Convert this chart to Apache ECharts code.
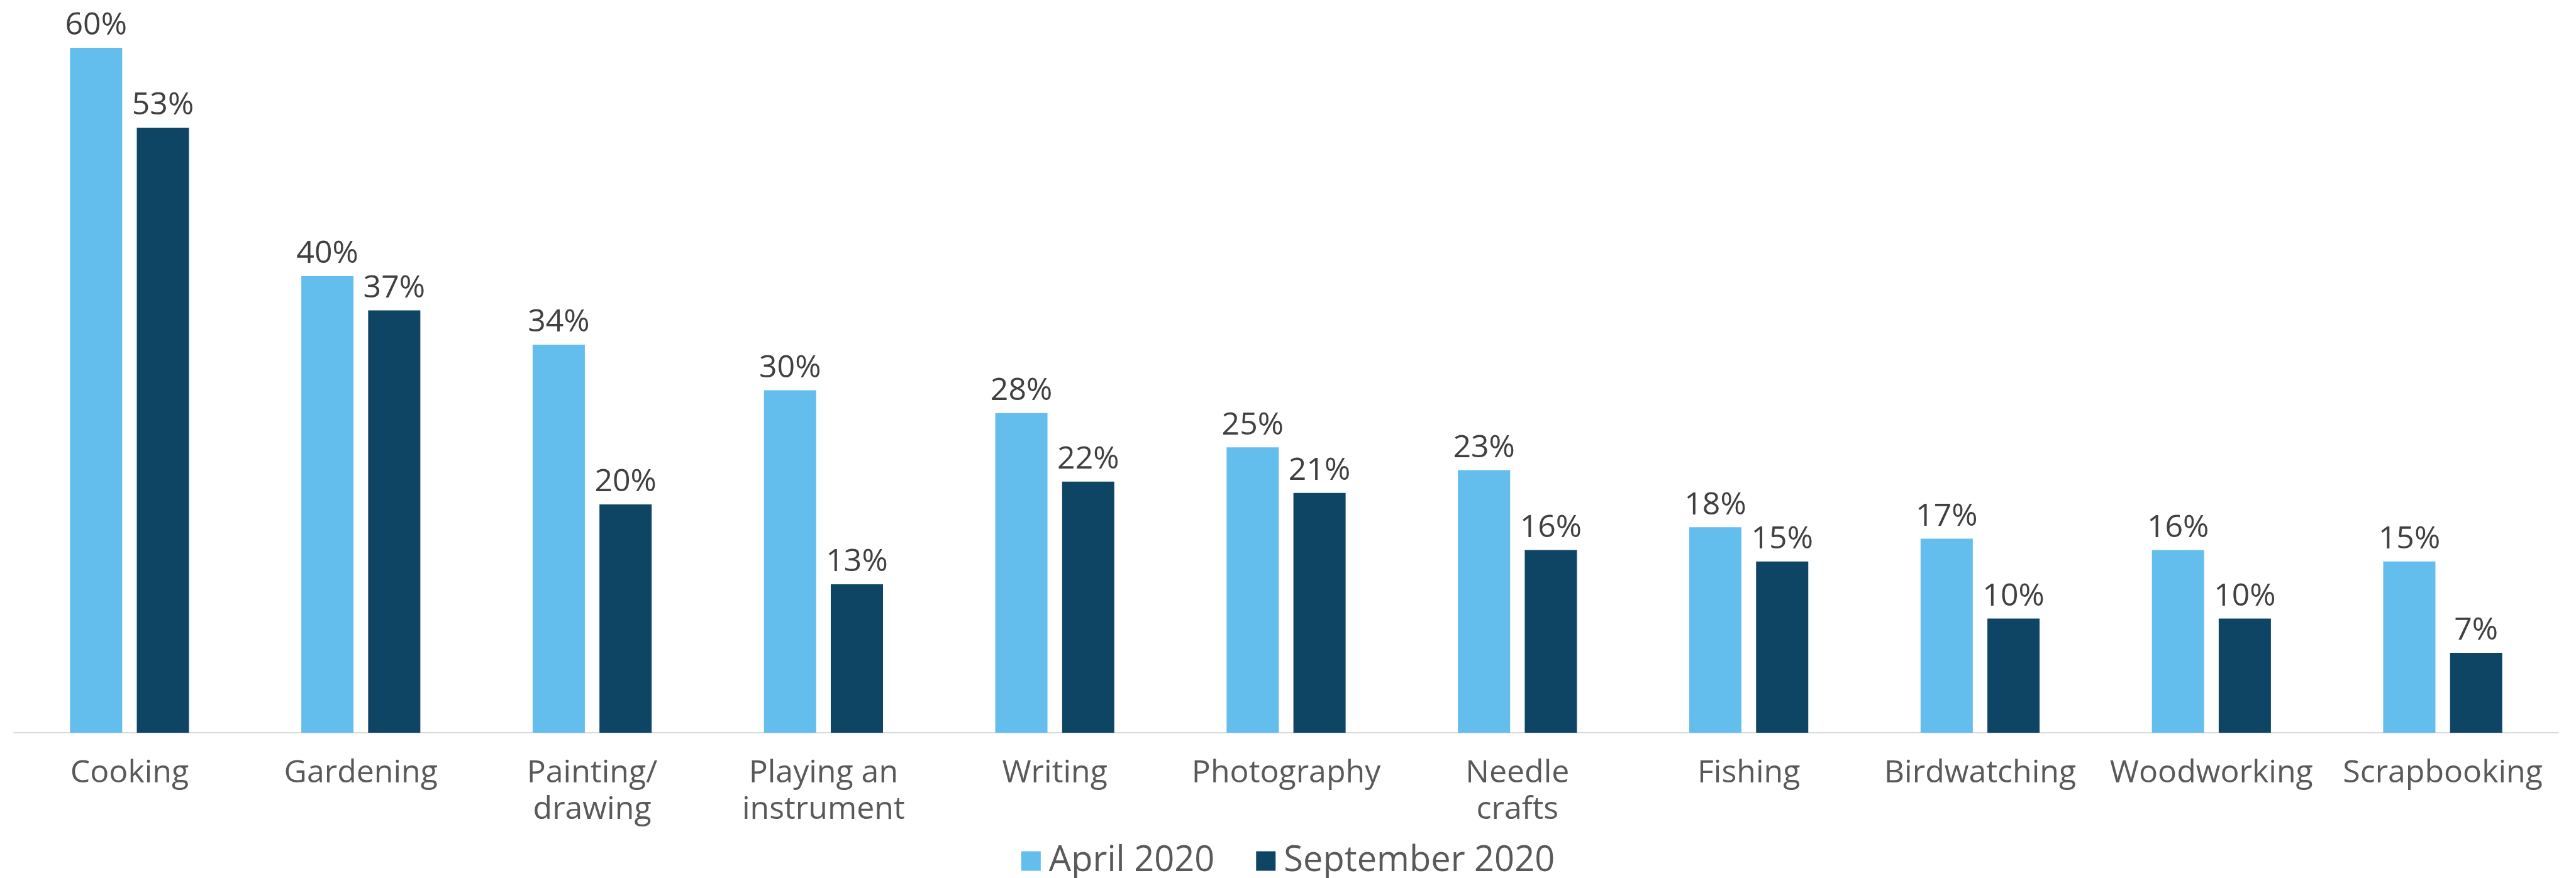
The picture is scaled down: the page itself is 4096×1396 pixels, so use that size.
<!DOCTYPE html>
<html>
<head>
<meta charset="utf-8">
<script src="https://cdn.jsdelivr.net/npm/echarts@6/dist/echarts.min.js"></script>
<style>
  html, body { margin: 0; padding: 0; background: #fff; }
  #main { width: 4096px; height: 1396px; }
</style>
</head>
<body>
<div id="main"></div>
<script>
var categories = ['Cooking', 'Gardening', 'Painting/\ndrawing', 'Playing an\ninstrument', 'Writing',
    'Photography', 'Needle\ncrafts', 'Fishing', 'Birdwatching', 'Woodworking', 'Scrapbooking'];
var april2020 = [60, 40, 34, 30, 28, 25, 23, 18, 17, 16, 15];
var september2020 = [53, 37, 20, 13, 22, 21, 16, 15, 10, 10, 7];

var font = '"Open Sans", "Noto Sans", sans-serif';

var chart = echarts.init(document.getElementById('main'));

var labelStyle = {
    show: true,
    position: 'top',
    distance: 10,
    formatter: '{c}%',
    color: '#404040',
    fontFamily: font,
    fontSize: 50
};

var option = {
    animation: false,
    grid: {
        left: 22,
        right: 28,
        top: 76,
        bottom: 231,
        containLabel: false
    },
    legend: {
        bottom: -6,
        left: 'center',
        icon: 'rect',
        itemWidth: 31,
        itemHeight: 31,
        itemGap: 66,
        textStyle: {
            color: '#595959',
            fontFamily: font,
            fontSize: 56,
            padding: [0, 0, 0, 8]
        },
        data: ['April 2020', 'September 2020']
    },
    xAxis: {
        type: 'category',
        data: categories,
        axisTick: { show: false },
        axisLine: { lineStyle: { color: '#d9d9d9', width: 2 } },
        axisLabel: {
            interval: 0,
            margin: 36,
            color: '#595959',
            fontFamily: font,
            fontSize: 50,
            lineHeight: 58
        }
    },
    yAxis: {
        type: 'value',
        min: 0,
        max: 60,
        show: false,
        splitLine: { show: false }
    },
    series: [
        {
            name: 'April 2020',
            type: 'bar',
            data: april2020,
            barWidth: 83,
            barGap: '28%',
            itemStyle: { color: '#63beed' },
            label: labelStyle
        },
        {
            name: 'September 2020',
            type: 'bar',
            data: september2020,
            barWidth: 83,
            barGap: '28%',
            itemStyle: { color: '#0e4564' },
            label: labelStyle
        }
    ]
};

chart.setOption(option);
</script>
</body>
</html>
